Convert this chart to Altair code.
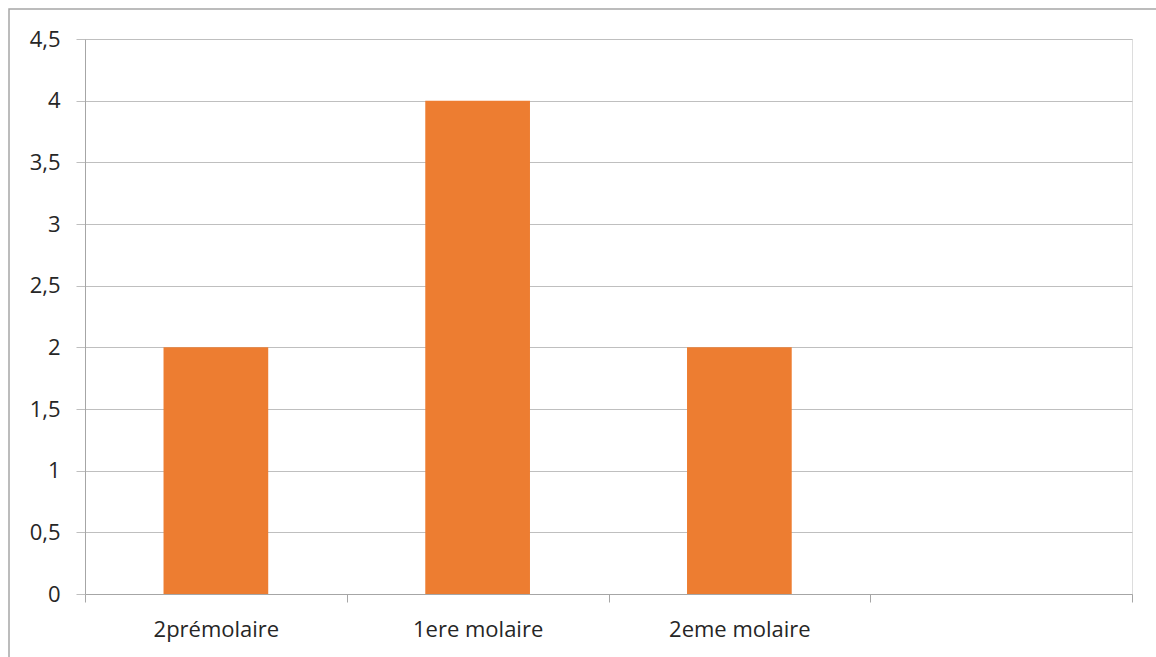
import altair as alt
import pandas as pd

# Nombre de dents par catégorie
categories = ["2prémolaire", "1ere molaire", "2eme molaire", " "]
values = [2, 4, 2, None]

df = pd.DataFrame({"dent": categories, "nombre": values})

FONT = "Open Sans"
TEXT = "#262626"
GRID = "#bfbfbf"
AXIS = "#a6a6a6"

bars = alt.Chart(df).mark_bar(
    color="#ED7D31", width=alt.RelativeBandSize(0.4)
).encode(
    x=alt.X(
        "dent:N",
        sort=categories,
        scale=alt.Scale(domain=categories, paddingInner=0, paddingOuter=0),
        axis=alt.Axis(
            title=None,
            labelAngle=0,
            tickBand="extent",
            grid=False,
            domainColor=AXIS,
            tickColor=AXIS,
            tickSize=8,
            labelPadding=17,
            labelFont=FONT,
            labelFontSize=22,
            labelColor=TEXT,
        ),
    ),
    y=alt.Y(
        "nombre:Q",
        scale=alt.Scale(domain=[0, 4.5], nice=False),
        axis=alt.Axis(
            title=None,
            values=[0, 0.5, 1, 1.5, 2, 2.5, 3, 3.5, 4, 4.5],
            labelExpr="replace(toString(datum.value), '.', ',')",
            gridColor=GRID,
            domainColor=AXIS,
            tickColor=GRID,
            tickSize=9,
            labelPadding=16,
            labelFont=FONT,
            labelFontSize=22,
            labelColor=TEXT,
        ),
    ),
)

# Cadre gris autour du graphique
frame = alt.Chart(pd.DataFrame({"k": [0]})).mark_rect(
    fill=None, stroke=AXIS, strokeWidth=1.5
).encode(
    x=alt.value(-76), x2=alt.value(1090),
    y=alt.value(-30), y2=alt.value(640),
)

chart = alt.layer(frame, bars).properties(
    width=1047,
    height=555,
    padding={"left": 85, "top": 39, "right": 24, "bottom": 63},
    autosize=alt.AutoSizeParams(type="none"),
).configure_view(stroke=None).configure(background="white")

chart.save("out.html", embed_options={"renderer": "svg", "actions": False})
